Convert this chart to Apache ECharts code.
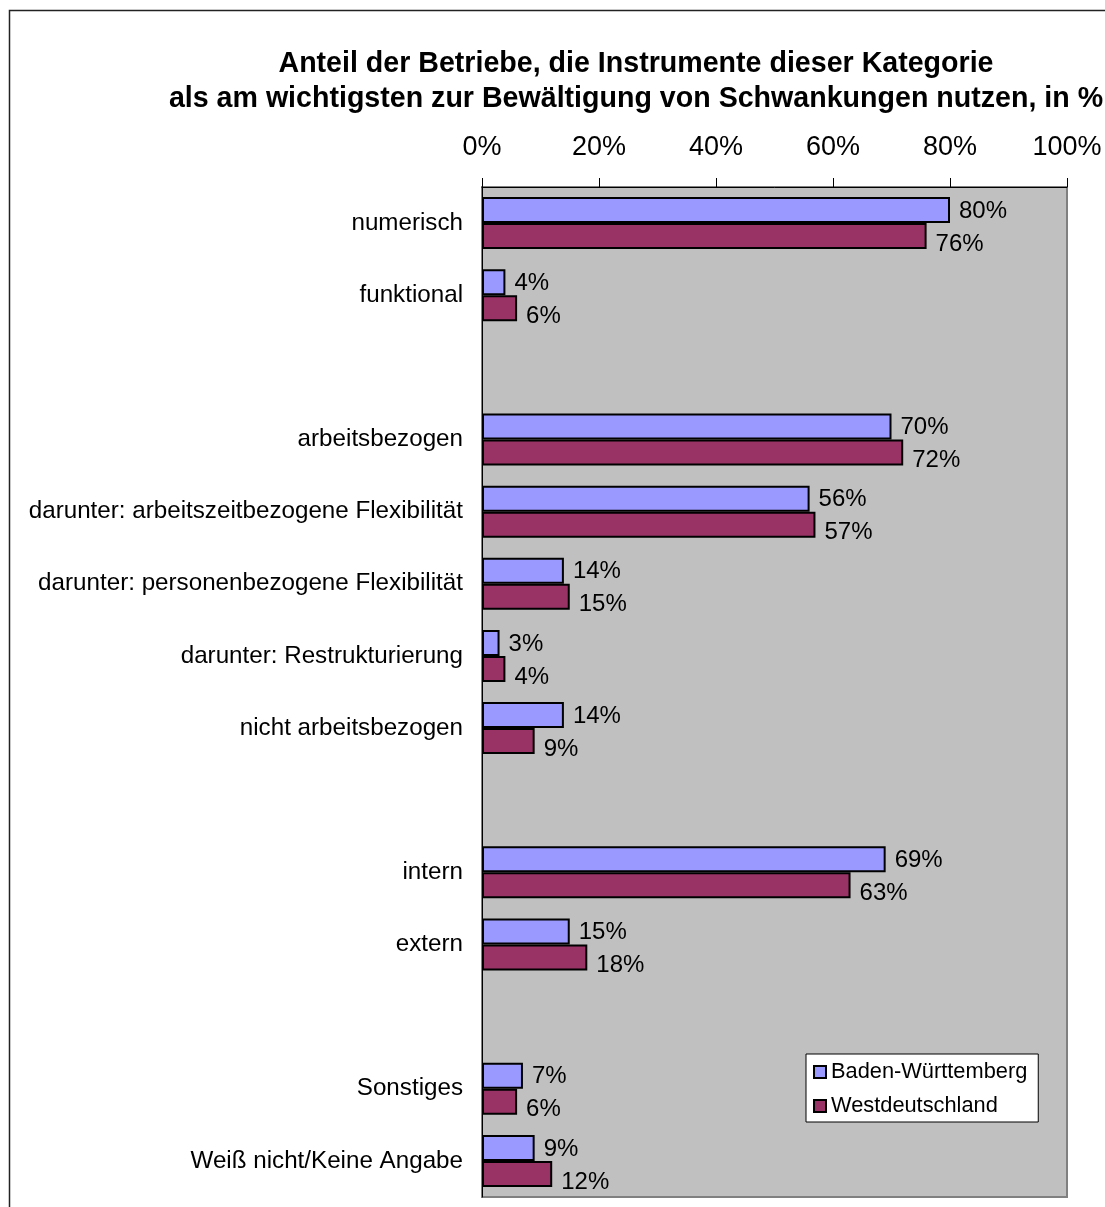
<!DOCTYPE html>
<html><head><meta charset="utf-8">
<script src="https://cdn.jsdelivr.net/npm/echarts@6/dist/echarts.min.js"></script>
<style>html,body{margin:0;padding:0;background:#fff}#c{width:1105px;height:1207px}</style>
</head><body><div id="c"></div>
<script>
const categories = ['numerisch','funktional','','arbeitsbezogen','darunter: arbeitszeitbezogene Flexibilität','darunter: personenbezogene Flexibilität','darunter: Restrukturierung','nicht arbeitsbezogen','','intern','extern','','Sonstiges','Weiß nicht/Keine Angabe'];
const seriesNames = ['Baden-Württemberg','Westdeutschland'];
const bwValues = [80,4,null,70,56,14,3,14,null,69,15,null,7,9];
const wdValues = [76,6,null,72,57,15,4,9,null,63,18,null,6,12];
const xTicks = [0,20,40,60,80,100];
const titleLines = ['Anteil der Betriebe, die Instrumente dieser Kategorie','als am wichtigsten zur Bewältigung von Schwankungen nutzen, in %'];

const FONT = "'Liberation Sans', Arial, sans-serif";
const chart = echarts.init(document.getElementById('c'));
function barSeries(name, data, color, dy){
  return {
    name, type:'bar', data, barWidth:26, barGap:'0%',
    itemStyle:{color, borderColor:'#000', borderWidth:2},
    label:{show:true, position:'right', distance:9, offset:[0,dy], color:'#000', fontSize:24, fontFamily:FONT,
      formatter:p=>p.value==null?'':p.value+'%'}
  };
}
chart.setOption({
  animation:false,
  backgroundColor:'#fff',
  textStyle:{fontFamily:FONT},
  title:{text:titleLines.join('\n'), left:631, top:42, textAlign:'center',
    textStyle:{fontSize:28.6, fontWeight:'bold', color:'#000', lineHeight:35, fontFamily:FONT}},
  graphic:[{type:'rect', shape:{x:9.5,y:10.5,width:2000,height:2000}, style:{fill:'none', stroke:'#222', lineWidth:1.5}, silent:true, z:-10}],
  legend:{orient:'vertical', left:806, top:1054, data:seriesNames,
    backgroundColor:'#fff', borderColor:'#000', borderWidth:1, padding:[6,11,4,7],
    itemWidth:12, itemHeight:12, itemGap:10, icon:'rect',
    textStyle:{fontSize:21.8, color:'#000', fontFamily:FONT, lineHeight:24}},
  grid:{left:482, top:187, width:585, height:1010, show:true, backgroundColor:'#C0C0C0', borderColor:'#808080', borderWidth:2},
  xAxis:{type:'value', position:'top', min:0, max:100, interval:20,
    axisLine:{show:true, lineStyle:{color:'#000', width:1}},
    axisTick:{show:true, inside:false, length:9, lineStyle:{color:'#000'}},
    splitLine:{show:false},
    axisLabel:{fontSize:27, color:'#000', margin:26, fontFamily:FONT, formatter:v=>v+'%'}},
  yAxis:{type:'category', data:categories, inverse:true,
    axisLine:{show:true, lineStyle:{color:'#000', width:1}},
    axisTick:{show:false},
    axisLabel:{fontSize:24.2, color:'#000', margin:19, fontFamily:FONT}},
  series:[barSeries(seriesNames[0], bwValues, '#9999FF', 1), barSeries(seriesNames[1], wdValues, '#993366', 8)]
});
</script></body></html>
